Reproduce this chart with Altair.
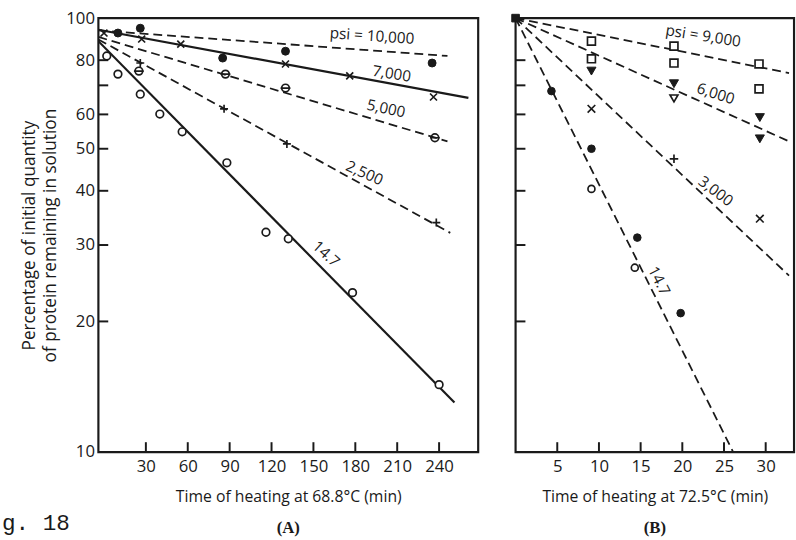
import altair as alt
import pandas as pd

# ---------------- Panel A: heating at 68.8 °C ----------------
A_T_147 = [2, 10, 26, 40, 56, 88, 116, 132, 178, 240]
A_V_147 = [81.8, 74.3, 66.8, 60.1, 54.7, 46.4, 32.1, 31.0, 23.3, 14.3]
A_T_10000 = [10, 26, 85, 130, 235]
A_V_10000 = [92.4, 94.8, 80.9, 83.9, 78.8]
A_T_7000 = [0, 27, 55, 130, 176, 236]
A_V_7000 = [92.4, 89.5, 87.1, 78.4, 73.6, 65.8]
A_T_5000 = [25, 87, 130, 237]
A_V_5000 = [75.5, 74.3, 69.0, 53.0]
A_T_2500 = [26, 86, 131, 238]
A_V_2500 = [78.8, 61.8, 51.3, 33.8]

# fitted first-order lines, start and end (t, %)
A_FIT_NAMES = ["10,000", "7,000", "5,000", "2,500", "14.7"]
A_FIT_T0 = [-4, -4, -4, -4, -4]
A_FIT_V0 = [93.7, 94.0, 90.5, 89.3, 88.5]
A_FIT_T1 = [246, 261, 246, 248, 251]
A_FIT_V1 = [81.8, 65.5, 52.0, 32.0, 13.0]
A_SOLID = ["7,000", "14.7"]

A_LABELS = ["psi = 10,000", "7,000", "5,000", "2,500", "14.7"]
A_LABEL_T = [192, 206, 202, 186.5, 159]
A_LABEL_V = [90.9, 74.4, 61.8, 43.9, 28.6]
A_LABEL_ANGLE = [4, 9, 12, 24, 42]

A_XTICKS = [30, 60, 90, 120, 150, 180, 210, 240]

# ---------------- Panel B: heating at 72.5 °C ----------------
B_T_START = [0]
B_V_START = [100]
B_T_147_FILLED = [4.3, 9.1, 14.6, 19.8]
B_V_147_FILLED = [67.9, 50.0, 31.2, 20.9]
B_T_147_OPEN = [9.1, 14.3]
B_V_147_OPEN = [40.4, 26.6]
B_T_9000 = [9.1, 9.1, 19.0, 19.0, 29.2, 29.2]
B_V_9000 = [88.5, 80.6, 86.2, 78.8, 78.4, 68.7]
B_T_6000_FILLED = [9.1, 19.0, 29.3, 29.3]
B_V_6000_FILLED = [75.5, 70.6, 59.0, 52.7]
B_T_6000_OPEN = [19.0]
B_V_6000_OPEN = [65.3]
B_T_3000_X = [9.1, 29.3]
B_V_3000_X = [61.8, 34.5]
B_T_3000_PLUS = [19.0]
B_V_3000_PLUS = [47.4]

B_FIT_NAMES = ["9,000", "6,000", "3,000", "14.7"]
B_FIT_T0 = [0, 0, 0, 0]
B_FIT_V0 = [100, 100, 100, 100]
B_FIT_T1 = [32.8, 32.8, 32.8, 26.1]
B_FIT_V1 = [74.7, 52.0, 25.5, 10.0]

B_LABELS = ["psi = 9,000", "6,000", "3,000", "14.7"]
B_LABEL_T = [22.5, 24.0, 24.0, 17.2]
B_LABEL_V = [90.9, 66.9, 39.9, 24.8]
B_LABEL_ANGLE = [9, 18, 37, 63]

B_XTICKS = [5, 10, 15, 20, 25, 30]

Y_LABELS = [10, 20, 30, 40, 50, 60, 70, 80, 100]
Y_INNER_TICKS = [20, 30, 40, 50, 60, 70, 80]

# ---------------- styling ----------------
FONT = "Open Sans"
INK = "#1a1a1a"
H = 441
W_A = 386
W_B = 283
TICK_LEN = 10

CROSS = "M-1,-1L1,1M-1,1L1,-1"
PLUS = "M-1,0L1,0M0,-1L0,1"
THETA = "M-1,0A1,1,0,1,1,1,0A1,1,0,1,1,-1,0Z M-1.3,0L1.3,0"


def pts(ts, vs):
    return pd.DataFrame({"t": ts, "v": vs})


def fit_frame(names, t0, v0, t1, v1):
    rows = []
    for n, a, b, c, d in zip(names, t0, v0, t1, v1):
        rows.append({"series": n, "t": a, "v": b})
        rows.append({"series": n, "t": c, "v": d})
    return pd.DataFrame(rows)


def panel(xdom, width, xticks, xtitle, show_y, fits, solid, markers,
          labels, caption, extra=None):
    sx = alt.Scale(domain=xdom, nice=False, zero=False)
    sy = alt.Scale(type="log", domain=[10, 100], nice=False)
    xaxis = alt.Axis(values=xticks, ticks=False, domain=False, grid=False,
                     labelFont=FONT, labelFontSize=17, labelColor=INK,
                     labelPadding=7, labelFlush=False,
                     title=xtitle, titleFont=FONT, titleFontSize=16,
                     titleFontWeight="normal", titleColor=INK, titlePadding=14)
    if show_y:
        yaxis = alt.Axis(values=Y_LABELS, format="d",
                         labelExpr="datum.value == 70 ? '' : datum.label",
                         ticks=False, domain=False, grid=False,
                         labelFont=FONT, labelFontSize=17, labelColor=INK,
                         labelPadding=4, labelFlush=False,
                         title=["Percentage of initial quantity",
                                "of protein remaining in solution"],
                         titleFont=FONT, titleFontSize=17.5,
                         titleFontWeight="normal", titleColor=INK,
                         titlePadding=6, titleLineHeight=22)
    else:
        yaxis = None

    X = alt.X("t:Q", scale=sx, axis=xaxis)
    Y = alt.Y("v:Q", scale=sy, axis=yaxis)

    layers = []
    dashed_fits = fits[~fits["series"].isin(solid)]
    solid_fits = fits[fits["series"].isin(solid)]
    if len(dashed_fits):
        layers.append(alt.Chart(dashed_fits).mark_line(
            color=INK, strokeWidth=1.8, strokeDash=[9, 5], clip=True
        ).encode(x=X, y=Y, detail="series:N"))
    if len(solid_fits):
        layers.append(alt.Chart(solid_fits).mark_line(
            color=INK, strokeWidth=2.2, clip=True
        ).encode(x=X, y=Y, detail="series:N"))

    for df, shape, filled, size in markers:
        if filled:
            mk = alt.Chart(df).mark_point(shape=shape, filled=True, fill=INK,
                                          stroke=INK, strokeWidth=1,
                                          size=size, opacity=1)
        else:
            mk = alt.Chart(df).mark_point(shape=shape, filled=False, fill="white",
                                          fillOpacity=1 if shape in ("circle", "square", "triangle-down") else 0,
                                          stroke=INK, strokeWidth=1.7,
                                          size=size, opacity=1)
        layers.append(mk.encode(x=X, y=Y))

    layers.append(alt.Chart(labels).mark_text(
        font=FONT, fontSize=15.5, color=INK, align="center", baseline="middle"
    ).encode(x=X, y=Y, text="text:N", angle=alt.Angle("ang:Q", scale=None)))

    # inward tick marks on the left and bottom frame
    layers.append(alt.Chart(pd.DataFrame({"v": Y_INNER_TICKS})).mark_rule(
        color=INK, strokeWidth=2
    ).encode(y=Y, x=alt.value(0), x2=alt.value(TICK_LEN)))
    layers.append(alt.Chart(pd.DataFrame({"t": xticks})).mark_rule(
        color=INK, strokeWidth=2
    ).encode(x=X, y=alt.value(H), y2=alt.value(H - TICK_LEN)))

    # panel letter under the axis title
    layers.append(alt.Chart(pd.DataFrame({"s": [caption]})).mark_text(
        font="Liberation Serif", fontSize=17, fontWeight="bold", color=INK,
        align="center", baseline="middle"
    ).encode(text="s:N", x=alt.value(width / 2), y=alt.value(H + 77)))

    if extra is not None:
        layers.append(extra)

    return alt.layer(*layers).properties(width=width, height=H)


def label_frame(texts, ts, vs, angs):
    return pd.DataFrame({"text": texts, "t": ts, "v": vs, "ang": angs})


fig_no = alt.Chart(pd.DataFrame({"s": ["g. 18"]})).mark_text(
    font="Liberation Mono", fontSize=23, color=INK, align="left",
    baseline="alphabetic"
).encode(text="s:N", x=alt.value(-98), y=alt.value(H + 79))

panel_a = panel(
    xdom=[-4, 268], width=W_A, xticks=A_XTICKS,
    xtitle="Time of heating at 68.8°C (min)", show_y=True,
    fits=fit_frame(A_FIT_NAMES, A_FIT_T0, A_FIT_V0, A_FIT_T1, A_FIT_V1),
    solid=A_SOLID,
    markers=[
        (pts(A_T_147, A_V_147), "circle", False, 60),
        (pts(A_T_10000, A_V_10000), "circle", True, 65),
        (pts(A_T_7000, A_V_7000), CROSS, False, 50),
        (pts(A_T_5000, A_V_5000), THETA, False, 60),
        (pts(A_T_2500, A_V_2500), PLUS, False, 65),
    ],
    labels=label_frame(A_LABELS, A_LABEL_T, A_LABEL_V, A_LABEL_ANGLE),
    caption="(A)", extra=fig_no,
)

panel_b = panel(
    xdom=[0, 33.4], width=W_B, xticks=B_XTICKS,
    xtitle="Time of heating at 72.5°C (min)", show_y=False,
    fits=fit_frame(B_FIT_NAMES, B_FIT_T0, B_FIT_V0, B_FIT_T1, B_FIT_V1),
    solid=[],
    markers=[
        (pts(B_T_START, B_V_START), "square", True, 60),
        (pts(B_T_147_FILLED, B_V_147_FILLED), "circle", True, 60),
        (pts(B_T_147_OPEN, B_V_147_OPEN), "circle", False, 50),
        (pts(B_T_9000, B_V_9000), "square", False, 65),
        (pts(B_T_6000_FILLED, B_V_6000_FILLED), "triangle-down", True, 85),
        (pts(B_T_6000_OPEN, B_V_6000_OPEN), "triangle-down", False, 65),
        (pts(B_T_3000_X, B_V_3000_X), CROSS, False, 60),
        (pts(B_T_3000_PLUS, B_V_3000_PLUS), PLUS, False, 75),
    ],
    labels=label_frame(B_LABELS, B_LABEL_T, B_LABEL_V, B_LABEL_ANGLE),
    caption="(B)",
)

chart = alt.hconcat(panel_a, panel_b, spacing=29).configure_view(
    stroke=INK, strokeWidth=2.2
).properties(
    padding={"left": 0, "top": 3, "right": 0, "bottom": 0},
    background="white",
)

chart.save("out.html", embed_options={"renderer": "svg", "actions": False})
